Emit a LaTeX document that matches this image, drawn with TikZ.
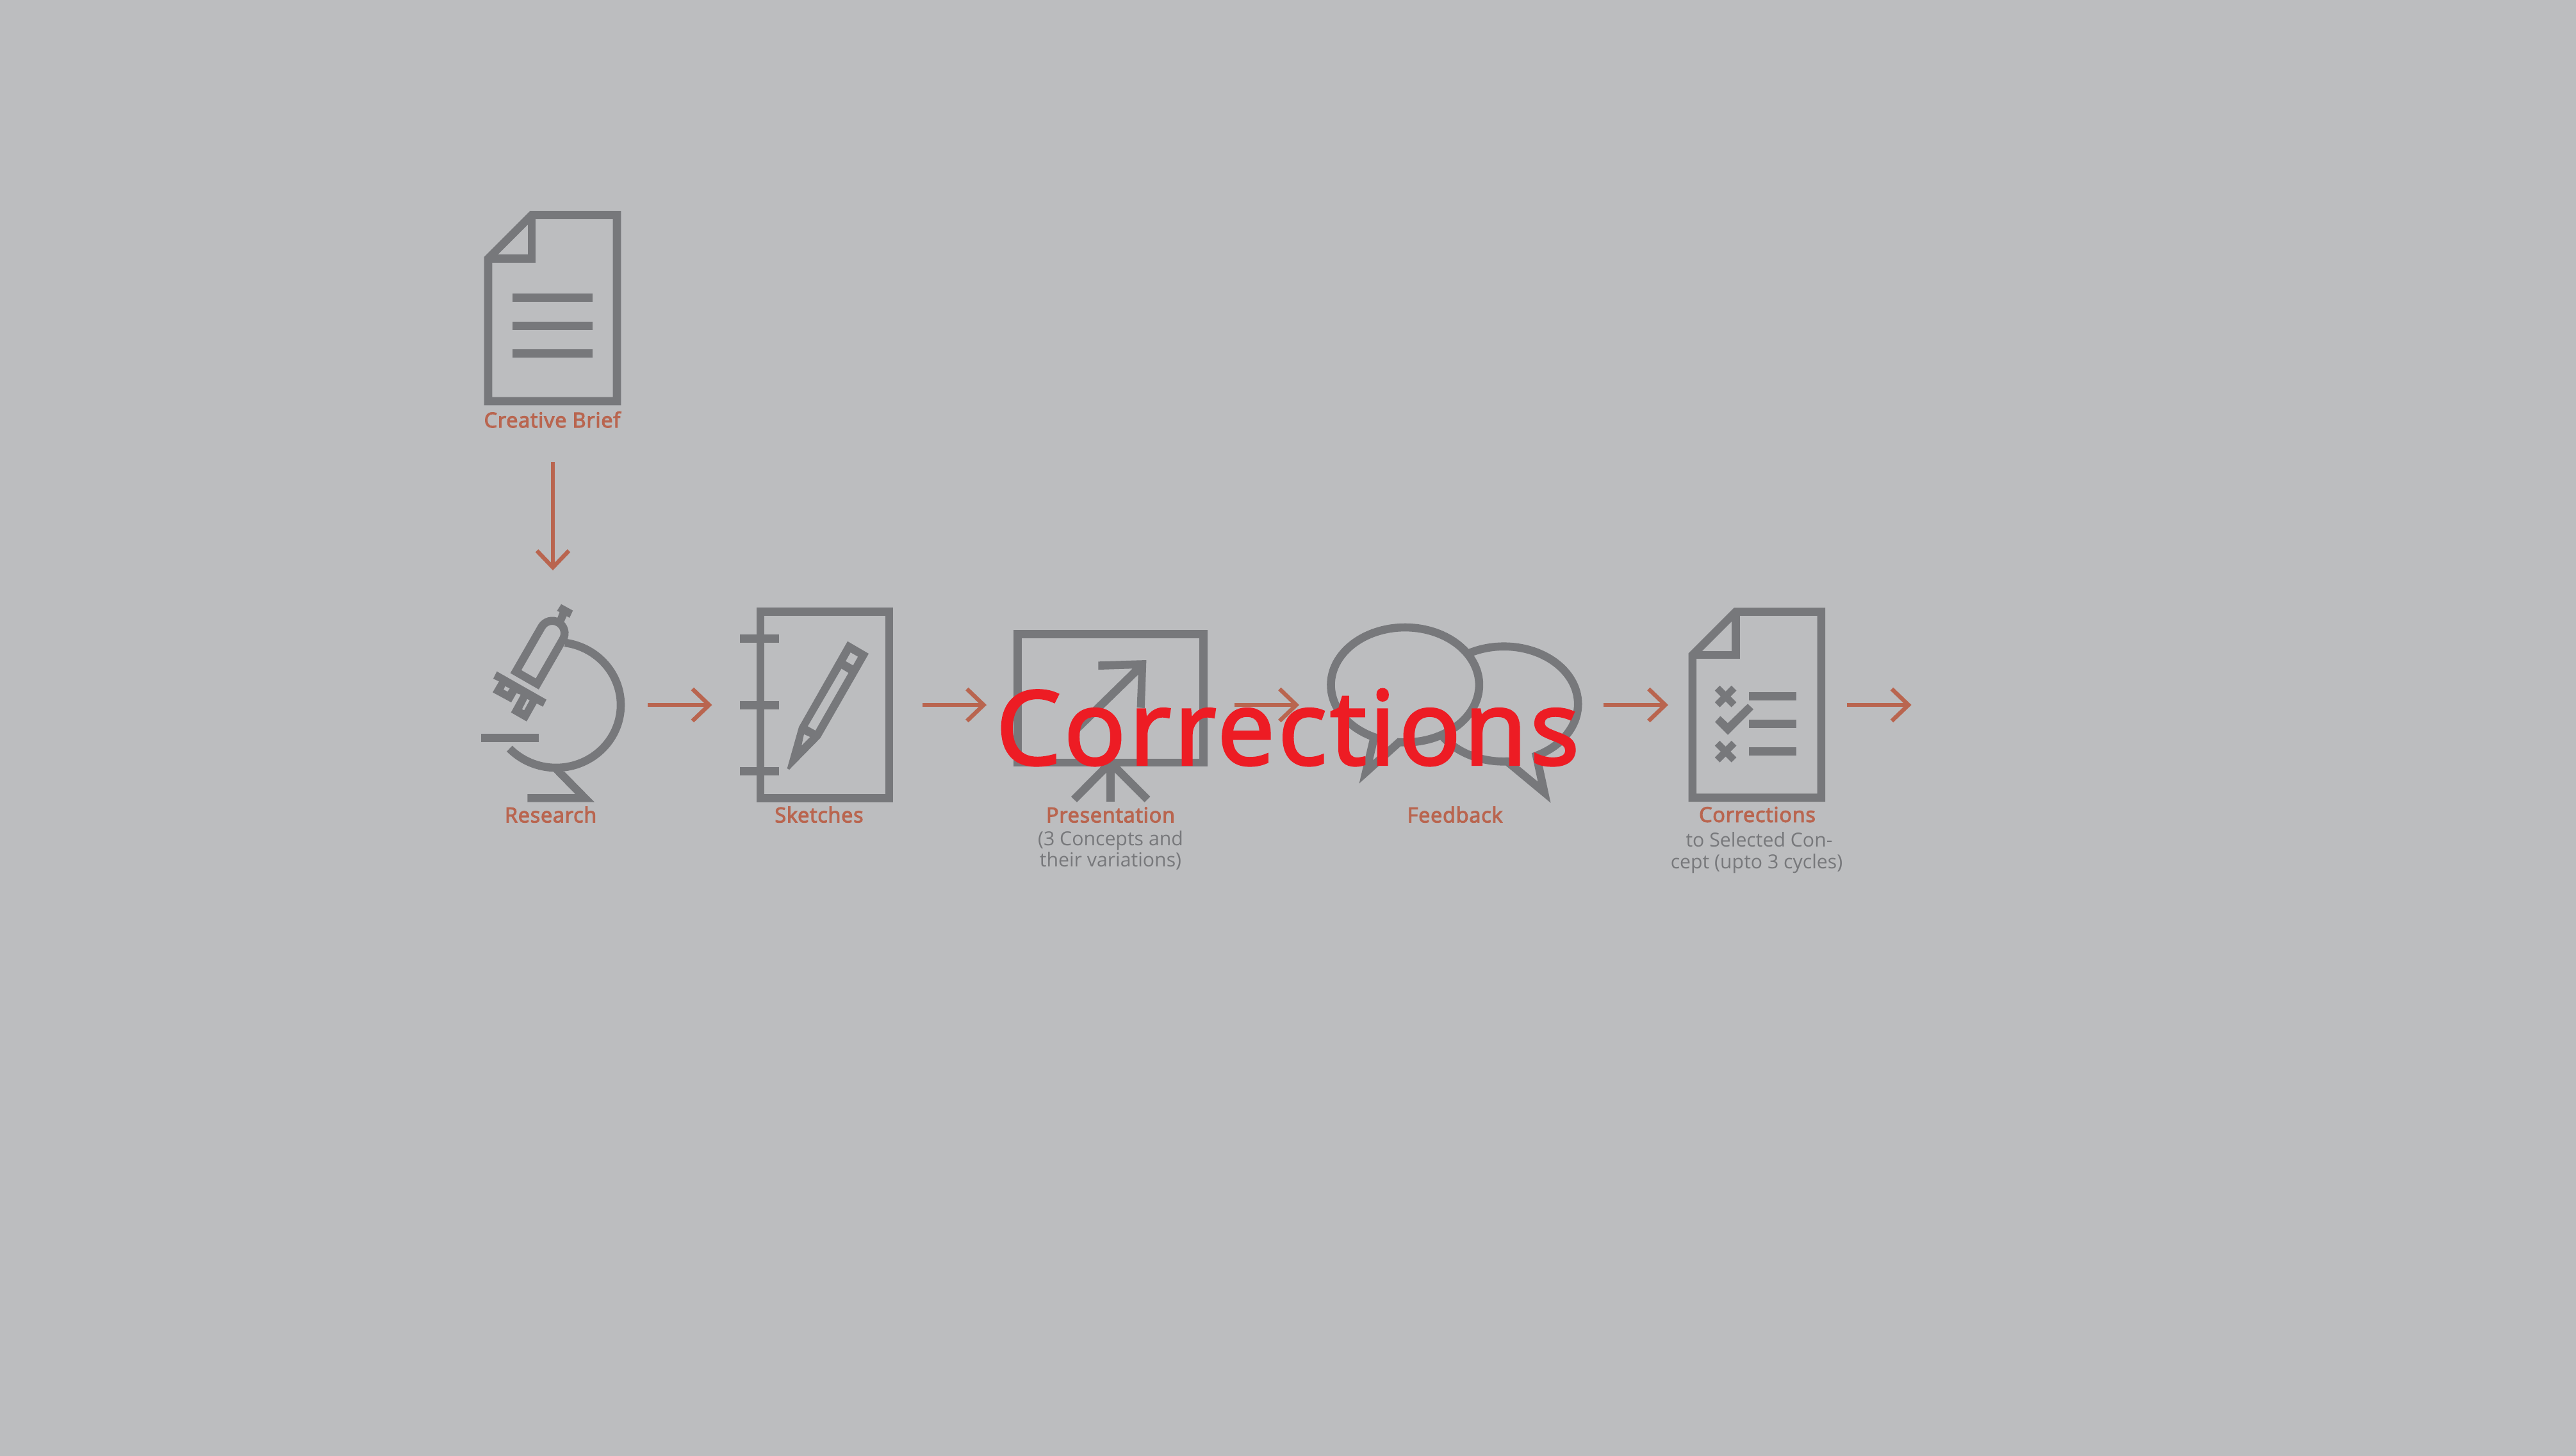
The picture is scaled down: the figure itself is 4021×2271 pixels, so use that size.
\documentclass[tikz,border=0pt]{standalone}
\usepackage{fontspec}
\setmainfont{Open Sans}
\newfontfamily\labfont[FakeBold=3.5,LetterSpace=2.5]{Open Sans}
\newfontfamily\bigfont[FakeBold=2.5,LetterSpace=3.2]{Open Sans}
\usetikzlibrary{arrows.meta}
\definecolor{bgc}{HTML}{BCBDBF}
\definecolor{icon}{HTML}{77787B}
\definecolor{accent}{HTML}{B9654F}
\definecolor{redc}{HTML}{ED1C24}
\newcommand{\lw}[1]{#1*0.28453pt}
\newcommand{\earc}[6]{plot[domain=#5:#6,samples=90] ({#1+#3*cos(\x)},{#2+#4*sin(\x)})}
\tikzset{
  iconline/.style={draw=icon,line width=\lw{12.6},miter limit=12},
  holes/.style={fill=icon,draw=none,even odd rule},
  barline/.style={draw=icon,line width=\lw{13}},
  flow/.style={draw=accent,line width=\lw{6.4},-{Straight Barb[length=7.4pt,width=14.2pt]}},
  title/.style={anchor=base,text=accent,font=\labfont\fontsize{9.2}{10}\selectfont,inner sep=0pt},
  sub/.style={anchor=base,text=icon,font=\fontsize{8.6}{10}\selectfont,inner sep=0pt},
  overlay text/.style={anchor=base,text=redc,font=\bigfont\fontsize{45.5}{50}\selectfont,inner sep=0pt}
}
\begin{document}
\begin{tikzpicture}[x=0.01cm,y=-0.01cm]
\useasboundingbox (0,0) rectangle (4021,2271);
\fill[bgc] (-20,-20) rectangle (4041,2291);

% Creative Brief document
\draw[iconline] (762,626) -- (762,403.5) -- (830,335.5) -- (963,335.5) -- (963,626) -- cycle;
\draw[iconline] (762,403.5) -- (830,403.5) -- (830,335.5);
\draw[barline] (800,464.5) -- (924.5,464.5);
\draw[barline] (800,508) -- (924.5,508);
\draw[barline] (800,551) -- (924.5,551);
\node[title] (brief) at (862,667) {Creative Brief};

% Microscope
\draw[iconline] \earc{868}{1100}{101}{98}{-82}{136};
\fill[icon] (863.6,1204) -- (881,1204) -- (928,1251.7) -- (823.4,1251.7) -- (823.4,1239) -- (898,1239) -- cycle;
\fill[icon] (750.7,1145) rectangle (840.7,1157.7);
\draw[iconline] (805.2,1048) -- (845.3,978.4) .. controls (850.6,969.2) and (862.4,966) .. (871.6,971.3)
  .. controls (880.8,976.6) and (884,988.4) .. (878.7,997.6) -- (838.6,1067.2) -- cycle;
\fill[icon] (876,942.7) -- (894.3,952.7) -- (889,964) -- (884.5,961.5) -- (878,976) -- (868,970) -- (873.5,955) -- (869.4,953.3) -- cycle;
\fill[holes] (775.6,1047.7) -- (853,1091.7) -- (847.4,1102.7) -- (837.8,1097.7) -- (822,1125.7) -- (797.6,1111.7) -- (812.9,1084) -- (806.2,1081.7) -- (798,1096) -- (769,1080.3) -- (779,1063.3) -- (769.9,1059) -- cycle
  (788.5,1070.7) -- (795.7,1074.3) -- (792.3,1079.3) -- (786.1,1076) -- cycle
  (823,1090.7) -- (826.8,1092.7) -- (818.2,1108.3) -- (814.8,1106.7) -- cycle;
\node[title] (research) at (859.6,1283.3) {Research};

% Sketches
\draw[iconline] (1187,954.6) rectangle (1388,1245.3);
\draw[barline] (1155,996) -- (1216.3,996);
\draw[barline] (1155,1100) -- (1216.3,1100);
\draw[barline] (1155,1203.8) -- (1216.3,1203.8);
\fill[holes] (1323,1000.7) -- (1356,1020) -- (1280.4,1151.7) -- (1232,1201) -- (1228.7,1199) -- (1247,1134.3) -- cycle
  (1327.7,1018) -- (1339.2,1024.7) -- (1331.6,1038.3) -- (1320,1031.7) -- cycle
  (1313.4,1043.3) -- (1324.4,1050) -- (1272.8,1140) -- (1260.8,1133.3) -- cycle
  (1255,1145.7) -- (1264.6,1150) -- (1251.2,1163.3) -- cycle;
\node[title] (sketches) at (1278.5,1283.3) {Sketches};

% Presentation
\draw[iconline] (1588.5,989.6) rectangle (1878.5,1190);
\fill[icon] (1714.4,1032.3) -- (1789.4,1030) -- (1786.8,1105) -- (1774.6,1104) -- (1776.6,1052.7) -- (1683.8,1143) -- (1675,1134) -- (1767.9,1043.3) -- (1714.4,1045) -- cycle;
\draw[iconline] (1733.5,1190) -- (1733.5,1251);
\draw[iconline] (1733.5,1190) -- (1676.5,1247.5);
\draw[iconline] (1733.5,1190) -- (1791,1247.5);
\node[title] (presentation) at (1733.5,1283.3) {Presentation};
\node[sub] (pres1) at (1733.5,1319) {(3 Concepts and};
\node[sub] (pres2) at (1733.5,1352.7) {their variations)};

% Feedback
\draw[iconline] plot[domain=-120:64,samples=90] ({2347.5+115.7*cos(\x)},{1098.5+89.8*sin(\x)}) -- (2410.5,1236.3) -- plot[domain=87.5:145,samples=40] ({2347.5+115.7*cos(\x)},{1098.5+89.8*sin(\x)});
\draw[iconline] plot[domain=114.6:454.6,samples=160] ({2193.2+115.7*cos(\x)},{1068.7+89.7*sin(\x)}) -- (2132.3,1204.5) -- cycle;
\node[title] (feedback) at (2271,1283.3) {Feedback};

% Corrections document
\draw[iconline] (2641.9,1244.7) -- (2641.9,1022) -- (2709.4,954.6) -- (2842.8,954.6) -- (2842.8,1244.7) -- cycle;
\draw[iconline] (2641.9,1022) -- (2709.4,1022) -- (2709.4,954.6);
\draw[barline] (2730,1086.3) -- (2803.6,1086.3);
\draw[barline] (2730,1129.5) -- (2803.6,1129.5);
\draw[barline] (2730,1172.5) -- (2803.6,1172.5);
\draw[icon,line width=\lw{11}] (2680.6,1073.7) -- (2706.6,1099.7) (2680.6,1099.7) -- (2706.6,1073.7);
\draw[icon,line width=\lw{11}] (2680.6,1159.7) -- (2706.6,1185.7) (2680.6,1185.7) -- (2706.6,1159.7);
\fill[icon] (2677,1126.7) -- (2685.4,1117.3) -- (2697,1128.3) -- (2728,1098.3) -- (2737,1106.7) -- (2697,1146.7) -- cycle;
\node[title] (corrections) at (2743,1282.7) {Corrections};
\node[sub] (corr1) at (2746,1321) {to Selected Con-};
\node[sub] (corr2) at (2742,1355) {cept (upto 3 cycles)};

% Flow arrows
\coordinate (a0s) at (863,721);   \coordinate (a0e) at (863,890);
\coordinate (a1s) at (1011,1100); \coordinate (a1e) at (1111.5,1100);
\coordinate (a2s) at (1440,1100); \coordinate (a2e) at (1540,1100);
\coordinate (a3s) at (1927,1100); \coordinate (a3e) at (2028,1100);
\coordinate (a4s) at (2502.5,1100); \coordinate (a4e) at (2604,1100);
\coordinate (a5s) at (2882.5,1100); \coordinate (a5e) at (2983.6,1100);
\draw[flow] (a0s) -- (a0e);
\draw[flow] (a1s) -- (a1e);
\draw[flow] (a2s) -- (a2e);
\draw[flow] (a3s) -- (a3e);
\draw[flow] (a4s) -- (a4e);
\draw[flow] (a5s) -- (a5e);

% Overlay word
\node[overlay text] (overlay) at (2010,1193) {Corrections};
\end{tikzpicture}
\end{document}
